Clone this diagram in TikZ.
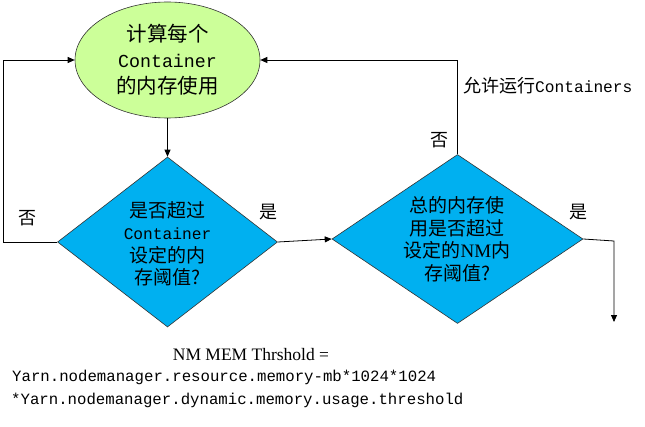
\documentclass[tikz,border=0pt]{standalone}
\usepackage{fontspec}
\setmainfont{Liberation Serif}
\setmonofont{Liberation Mono}
\newfontfamily\cjk{Noto Sans CJK SC}
\usetikzlibrary{shapes.geometric,arrows.meta}
\definecolor{ellgreen}{RGB}{204,255,153}
\definecolor{diablue}{RGB}{0,176,240}
\tikzset{
  conn/.style={draw=black,line width=0.8pt},
  arr/.style={conn,-{Triangle[length=7pt,width=6pt]}},
  dia/.style={diamond,draw=black!80,line width=0.6pt,fill=diablue,inner sep=0pt},
  lbl/.style={font=\fontsize{18}{20}\selectfont\cjk,inner sep=0pt},
}
\begin{document}
\begin{tikzpicture}[x=1pt,y=1pt]
\useasboundingbox (0,0) rectangle (645,426);
% ellipse
\node[ellipse,draw=black!80,line width=0.6pt,fill=ellgreen,minimum width=185pt,minimum height=116pt,inner sep=0pt] (e) at (167.5,366) {};
\node[align=center,inner sep=0pt,font=\fontsize{20.5}{26}\selectfont\cjk] (et) at (167.5,366)
  {计算每个\\{\ttfamily\fontsize{18.3}{26}\selectfont Container}\\的内存使用};
% diamond 1
\node[dia,minimum width=220pt,minimum height=170pt] (d1) at (167.5,184) {};
\node[align=center,inner sep=0pt,font=\fontsize{19}{22.5}\selectfont\cjk] (d1t) at (167.5,182)
  {是否超过\\{\ttfamily\fontsize{16.2}{22.5}\selectfont Container}\\设定的内\\存阈值?};
% diamond 2
\node[dia,minimum width=251pt,minimum height=169pt] (d2) at (457.5,187) {};
\node[align=center,inner sep=0pt,font=\fontsize{19}{22.5}\selectfont\cjk] (d2t) at (457,187)
  {总的内存使\\用是否超过\\设定的{\rmfamily NM}内\\存阈值?};
% helper coordinates
\coordinate (lc) at (3,184);
\coordinate (r1) at (614,185);
\coordinate (r2) at (614,104);
% connectors
\draw[arr] (e.south) -- (d1.north);
\draw[arr] (d1.west) -- (lc) |- (e.west);
\draw[arr] (d1.east) -- (d2.west);
\draw[arr] (d2.north) |- (e.east);
\draw[arr] (d2.east) -- (r1) -- (r2);
% labels
\node[lbl] (n1) at (28,208) {否};
\node[lbl] (y1) at (268,214) {是};
\node[lbl] (n2) at (439,286) {否};
\node[lbl] (y2) at (578,214) {是};
\node[inner sep=0pt,anchor=west,font=\fontsize{18}{20}\selectfont\cjk] (allow) at (463,340)
  {允许运行{\ttfamily\fontsize{16.2}{20}\selectfont Containers}};
% formula
\node[inner sep=0pt,font=\fontsize{17.5}{18}\selectfont\rmfamily] (f1) at (251,71) {NM MEM Thrshold =};
\node[inner sep=0pt,anchor=west,font=\fontsize{15.7}{18}\selectfont\ttfamily] (f2) at (12,49) {Yarn.nodemanager.resource.memory-mb*1024*1024};
\node[inner sep=0pt,anchor=west,font=\fontsize{15.7}{18}\selectfont\ttfamily] (f3) at (11,26) {*Yarn.nodemanager.dynamic.memory.usage.threshold};
\end{tikzpicture}
\end{document}
